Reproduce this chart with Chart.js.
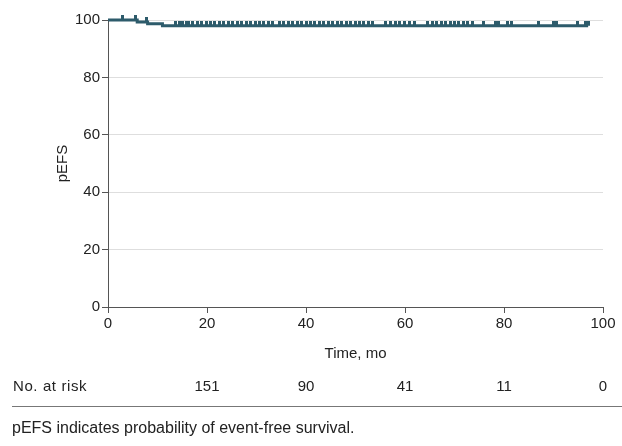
<!DOCTYPE html>
<html>
<head>
<meta charset="utf-8">
<script src="https://cdn.jsdelivr.net/npm/chart.js@4"></script>
<style>
  body { margin: 0; background: #fff; }
  .wrap { position: relative; width: 622px; height: 446px; }
  #km-chart { position: absolute; left: 0; top: 0; }
  .rule { position: absolute; left: 12px; right: 0; top: 406px; border-top: 1px solid #777; }
  .note { position: absolute; left: 12px; top: 419px; font: 16px "Liberation Sans", sans-serif; color: #222; }
</style>
</head>
<body>
<div class="wrap">
  <canvas id="km-chart" width="622" height="446"></canvas>
  <div class="rule"></div>
  <div class="note">pEFS indicates probability of event-free survival.</div>
</div>
<script>
// Kaplan-Meier steps (time in months, pEFS in %)
const kmTimes = [0, 5.9, 8.0, 11.0, 97.0];
const kmSurv = [100, 99.3, 98.7, 98.0, 98.0];

// censored observations (months)
const censorTimes = [
  3.0, 5.6, 7.7, 13.7, 14.4, 15.1, 15.8,
  16.2, 17.1, 18.0, 18.9, 19.8, 20.7, 21.6, 22.5, 23.4, 24.3, 25.2, 26.1,
  27.0, 27.9, 28.8, 29.7, 30.6, 31.5, 32.4, 33.3,
  34.6, 35.5, 36.4, 37.3, 38.2, 39.1, 40.0, 40.9, 41.8, 42.7, 43.6, 44.5,
  45.4, 46.3, 47.2, 48.1, 49.0, 49.9, 50.8, 51.7, 52.6, 53.5,
  56.0, 57.0, 58.0, 58.9, 59.9, 60.9, 62.0,
  64.6, 65.5, 66.4, 67.3, 68.2, 69.1, 70.0, 70.9, 71.8, 72.7, 73.6,
  75.8, 78.2, 78.8, 80.8, 81.6, 86.9, 89.9, 90.7, 94.9, 96.4, 97.0
];

// number at risk row
const riskTimes = [20, 40, 60, 80, 100];
const riskCounts = [151, 90, 41, 11, 0];

const lineColor = "#2d5b6b";
const axisColor = "#555";
const fontFamily = '"Liberation Sans", sans-serif';

// survival level at a given time (step function)
function survAt(t) {
  let s = kmSurv[0];
  for (let i = 0; i < kmTimes.length; i++) {
    if (kmTimes[i] <= t) s = kmSurv[i];
  }
  return s;
}

// censor tick: small thick bar sitting on top of the curve
const censorMark = document.createElement("canvas");
censorMark.width = 3;
censorMark.height = 10;
const cm = censorMark.getContext("2d");
cm.fillStyle = lineColor;
cm.fillRect(0, 0, 3, 5);

const atRisk = {
  id: "atRisk",
  afterDraw(chart) {
    const ctx = chart.ctx;
    const x = chart.scales.x;
    ctx.save();
    ctx.font = "15px " + fontFamily;
    ctx.fillStyle = "#222";
    ctx.textBaseline = "middle";
    ctx.textAlign = "left";
    ctx.letterSpacing = "0.6px";
    ctx.fillText("No. at risk", 13, 387);
    ctx.letterSpacing = "0px";
    ctx.textAlign = "center";
    riskTimes.forEach((t, i) => {
      ctx.fillText(String(riskCounts[i]), x.getPixelForValue(t), 387);
    });
    ctx.restore();
  },
};

new Chart(document.getElementById("km-chart"), {
  type: "scatter",
  data: {
    datasets: [
      {
        type: "line",
        data: kmTimes.map((t, i) => ({ x: t, y: kmSurv[i] })),
        borderColor: lineColor,
        borderWidth: 3,
        stepped: true,
        pointRadius: 0,
        fill: false,
        clip: false,
      },
      {
        data: censorTimes.map((t) => ({ x: t, y: survAt(t) })),
        pointStyle: censorMark,
        pointRadius: 4,
        clip: false,
      },
    ],
  },
  options: {
    responsive: false,
    animation: false,
    layout: { padding: { left: 50, right: 19, top: 20, bottom: 79 } },
    scales: {
      x: {
        type: "linear",
        min: 0,
        max: 100,
        ticks: { stepSize: 20, color: "#222", padding: 2, font: { size: 15, family: fontFamily } },
        grid: { color: "transparent", tickColor: axisColor, tickLength: 6 },
        border: { color: axisColor },
        title: { display: true, text: "Time, mo", color: "#222", font: { size: 15, family: fontFamily }, padding: { top: 7 } },
        afterFit(scale) { scale.height = 60; },
      },
      y: {
        min: 0,
        max: 100,
        ticks: { stepSize: 20, color: "#222", padding: 2, font: { size: 15, family: fontFamily } },
        grid: { color: "#dedede", tickColor: axisColor, tickLength: 6 },
        border: { color: axisColor },
        title: { display: true, text: "pEFS", color: "#222", font: { size: 15, family: fontFamily } },
        afterFit(scale) { scale.width = 58; },
      },
    },
    plugins: {
      legend: { display: false },
      tooltip: { enabled: false },
    },
  },
  plugins: [atRisk],
});
</script>
</body>
</html>
